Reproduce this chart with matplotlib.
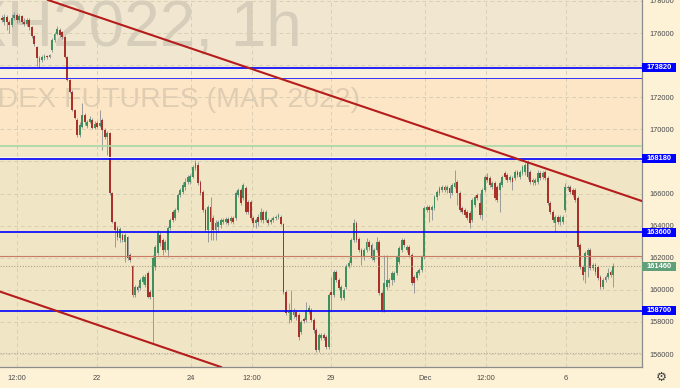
import matplotlib
matplotlib.use('Agg')
import matplotlib.pyplot as plt
from matplotlib import transforms
from matplotlib.patches import Rectangle
import numpy as np

plt.rcParams['font.family'] = ['Liberation Sans', 'DejaVu Sans']

# ---------------- data (hourly candles, MXH2022) ----------------
opens = [
    176930, 176690, 177000, 176690, 176500, 176930, 177120, 176810, 177060, 176690,
    176560, 176810, 176370, 175810, 175130, 174190, 174320, 174440, 174570, 174500,
    174940, 175560, 175940, 176190, 176060, 175750, 174500, 173070, 172320, 171200,
    170580, 169650, 170140, 170890, 170210, 170460, 170580, 170080, 170390, 170210,
    170580, 169960, 169520, 169770, 166030, 164230, 163850, 163230, 163420, 162980,
    163290, 162170, 161480, 159680, 160180, 160110, 160490, 160300, 161050, 159860,
    159550, 161420, 162290, 163420, 163100, 162480, 162480, 163850, 164850, 164470,
    164970, 165910, 166090, 166410, 166720, 166720, 167030, 167590, 167780, 166720,
    166090, 164970, 163730, 165160, 164470, 163730, 163910, 164040, 164230, 164230,
    164410, 164290, 164470, 164470, 165910, 166220, 165720, 166340, 165470, 165470,
    164470, 164160, 164540, 164350, 164850, 164350, 164350, 164230, 164350, 164470,
    164540, 164540, 164100, 159860, 158560, 158120, 158430, 158620, 158430, 157370,
    158180, 158120, 158620, 158740, 158120, 157500, 156250, 157000, 157190, 157060,
    156440, 159860, 159680, 161110, 160610, 159490, 159490, 160180, 161480, 161670,
    163100, 164160, 163170, 162480, 162040, 162480, 162980, 162790, 161860, 162480,
    162980, 159800, 158740, 160180, 160430, 160610, 160610, 161050, 161730, 162480,
    163100, 162480, 162670, 162170, 160800, 160740, 161050, 161240, 162040, 164970,
    165160, 164970, 165100, 165780, 166030, 166220, 166410, 166220, 166340, 166030,
    166410, 166720, 166030, 165100, 164970, 164850, 164790, 164350, 165280, 165910,
    165410, 164660, 166220, 167030, 166970, 166410, 166660, 166410, 166220, 166530,
    167280, 167150, 166840, 166970, 166970, 167340, 167030, 167280, 167340, 167900,
    167340, 166840, 166660, 166720, 167280, 167030, 167340, 166970, 165410, 164850,
    164160, 164540, 164230, 164230, 164970, 166340, 166410, 166220, 166220, 165720,
    162790, 161420, 161110, 162170, 162480, 161360, 161550, 161420, 160800, 160180,
    160610, 160800, 161110, 160920,
]
closes = [
    176810, 177000, 176690, 176500, 176930, 177120, 176810, 177060, 176690, 176560,
    176810, 176370, 175810, 175310, 174440, 174440, 174500, 174570, 174500, 174630,
    175560, 175940, 176250, 175880, 175750, 174500, 173070, 172320, 171200, 170700,
    169650, 170270, 170890, 170460, 170460, 170640, 170080, 170330, 170140, 170390,
    169960, 169520, 169770, 166030, 164230, 163730, 163290, 163790, 163100, 163420,
    161980, 161860, 159680, 160180, 159990, 160610, 160800, 160800, 159550, 159550,
    161980, 162670, 163540, 162920, 162480, 162980, 163850, 164350, 164350, 164970,
    165910, 166220, 166530, 166720, 167030, 167090, 167650, 167900, 166660, 166030,
    164970, 163730, 165160, 164230, 163730, 164160, 164230, 164350, 164350, 164410,
    164160, 164470, 164230, 166030, 166220, 165410, 166530, 164850, 164850, 164470,
    164160, 164350, 164230, 164850, 164350, 164850, 164160, 164350, 164470, 164540,
    164660, 164100, 159860, 158560, 158620, 158740, 158620, 158310, 157060, 158000,
    158060, 158740, 158870, 158120, 157500, 156250, 157190, 157190, 157000, 156440,
    159680, 159680, 161110, 160610, 160110, 160180, 159990, 161480, 161670, 163100,
    164160, 163100, 162480, 162040, 162480, 162980, 162670, 161980, 162480, 162980,
    159800, 158740, 160430, 160610, 160610, 161050, 161050, 162040, 162610, 163100,
    162790, 162670, 162170, 160430, 160430, 161110, 161240, 162040, 165100, 165160,
    164970, 165160, 165780, 166090, 166340, 166410, 166220, 166410, 166030, 166530,
    166660, 166030, 164970, 164850, 164660, 164470, 164160, 165600, 165780, 165720,
    164660, 166220, 167030, 166840, 166530, 166660, 165720, 165600, 166660, 167030,
    167030, 166840, 167030, 166720, 167340, 167150, 167340, 167650, 167780, 167030,
    166720, 166720, 166840, 167280, 166970, 167280, 166970, 165410, 164850, 164350,
    164540, 164230, 164540, 164540, 166410, 166410, 166090, 165910, 165600, 162670,
    161420, 160920, 162290, 162480, 161360, 161550, 161110, 160740, 160180, 160610,
    160800, 161050, 160920, 161460,
]
highs = [
    177120, 177180, 177120, 176810, 177180, 177310, 177250, 177180, 177120, 176930,
    176930, 176930, 176440, 175880, 175190, 174570, 174630, 174690, 174630, 174690,
    175690, 176060, 176440, 176310, 176120, 175810, 174570, 173130, 172450, 171270,
    170700, 170460, 171640, 171020, 170580, 170830, 170700, 170520, 170520, 171200,
    170700, 170080, 169890, 169830, 166090, 164290, 163980, 163910, 163540, 163540,
    163350, 162290, 161550, 160300, 160300, 160740, 160920, 160990, 161170, 159990,
    162170, 162790, 163730, 163600, 163230, 163100, 163980, 164470, 164970, 165100,
    166030, 166340, 166720, 166970, 167150, 167220, 167780, 168090, 167960, 166840,
    166220, 165100, 165280, 165780, 164660, 164350, 164350, 164470, 164470, 164540,
    164540, 164600, 164600, 166160, 166340, 166340, 166660, 166470, 165600, 165600,
    164600, 164470, 164720, 165100, 164970, 164970, 164470, 164470, 164600, 164660,
    164790, 164660, 164160, 159990, 159180, 159990, 158870, 158740, 158560, 158120,
    158310, 159240, 159050, 158870, 158250, 157620, 157310, 157310, 157310, 157190,
    159800, 160800, 161240, 161240, 160740, 160300, 160110, 161610, 161860, 163230,
    164410, 164290, 163290, 162610, 162610, 163230, 163100, 162920, 162610, 163290,
    163100, 159930, 162170, 162170, 160740, 161170, 161170, 162170, 162730, 163230,
    163230, 162790, 162790, 162290, 160920, 161240, 161360, 162170, 165220, 165280,
    165280, 165280, 165910, 166220, 166470, 166530, 166530, 166530, 166470, 166660,
    167470, 166840, 166160, 165220, 165100, 164970, 164910, 165720, 165910, 166030,
    166030, 166340, 167150, 167280, 167090, 166780, 166780, 166530, 166780, 167150,
    167400, 167280, 167150, 167090, 167470, 167470, 167470, 167780, 167900, 168090,
    167470, 166970, 166970, 167470, 167400, 167400, 167470, 167090, 165530, 164970,
    164660, 164660, 164660, 164660, 166660, 166530, 166530, 166340, 166340, 165850,
    162920, 161550, 162420, 162610, 162610, 161670, 161670, 161550, 160920, 160740,
    160920, 161360, 161240, 161670,
]
lows = [
    176690, 176500, 176190, 176000, 176370, 176810, 176620, 176690, 176560, 176440,
    176440, 176190, 175690, 175190, 173940, 173880, 174190, 174320, 174380, 174440,
    174820, 175440, 175880, 175750, 175630, 174440, 173010, 172260, 171140, 170640,
    169520, 169520, 170080, 170270, 170080, 170390, 170020, 170020, 170080, 170140,
    168710, 169400, 168400, 165910, 164160, 162670, 163100, 162980, 162980, 161730,
    161860, 161730, 159550, 159550, 159860, 159990, 160360, 160180, 159490, 159430,
    156690, 161240, 162170, 162730, 162170, 162360, 162040, 163730, 164230, 164350,
    164850, 165780, 165970, 166220, 166590, 166590, 166970, 167470, 166530, 165910,
    164850, 163600, 162980, 163100, 163100, 163100, 163600, 163850, 164100, 164100,
    164040, 164160, 164100, 164350, 165780, 165280, 165600, 164720, 164720, 164350,
    163910, 163850, 163980, 164230, 164160, 164230, 164040, 164100, 164230, 164350,
    164410, 164040, 159740, 158430, 157930, 158000, 158250, 158120, 156870, 157250,
    157930, 158000, 158490, 158000, 157310, 156130, 156130, 156870, 156870, 156310,
    156310, 158740, 159550, 160490, 159990, 159370, 159370, 160050, 161360, 161550,
    162980, 162980, 162360, 161550, 161860, 162360, 162480, 161860, 161730, 162360,
    159680, 158620, 158620, 159990, 160180, 160300, 160490, 160920, 161610, 162360,
    162670, 162360, 162040, 160300, 159800, 160610, 160920, 161110, 161920, 164850,
    164230, 164350, 164970, 165600, 165910, 166090, 166090, 166030, 165720, 165910,
    166340, 165280, 164850, 164720, 164540, 164350, 163850, 164230, 165160, 165600,
    164470, 164350, 166090, 166720, 166410, 166280, 165600, 165470, 164850, 166410,
    166900, 166720, 166720, 166220, 166840, 167030, 166900, 167150, 167150, 166900,
    166590, 166530, 166530, 166590, 166840, 166900, 166840, 165280, 164720, 164230,
    163600, 164100, 164040, 164100, 164850, 166220, 165970, 165780, 165470, 162540,
    161300, 160610, 160430, 160800, 161240, 161240, 160920, 160610, 160050, 160050,
    160490, 160670, 160800, 160180,
]

blue_levels = [173820, 168180, 163600, 158700]
blue_labels = ['173820', '168180', '163600', '158700']
thin_blue_level = 173200
green_level = 168960
white_level = 168270
brown_level = 162110
dotted_level = 156050
last_price = 161460
last_label = '161460'

ytick_values = [156000, 158000, 160000, 162000, 164000, 166000, 168000,
                170000, 172000, 174000, 176000, 178000]
ytick_labels = ['156000', '158000', '160000', '162000', '164000', '166000', '',
                '170000', '172000', '', '176000', '178000']
xtick_positions = [6.1, 37.9, 75.2, 99.5, 130.9, 168.2, 192.5, 224.3]
xtick_labels = ['12:00', '22', '24', '12:00', '29', 'Dec', '12:00', '6']

upper_trend = [(18.4, 178056), (254.5, 165530)]
lower_trend = [(-0.68, 159890), (86.8, 155210)]

# ---------------- figure ----------------
W, H = 680, 388
fig = plt.figure(figsize=(W / 100, H / 100), dpi=100, facecolor='#fdf2d6')
ax = fig.add_axes([0, 21 / H, 642 / W, 367 / H])
ax.set_xlim(-0.68, 254.5)
ax.set_ylim(155192, 178056)
ax.set_facecolor('#f0e5c4')

# background bands
ax.axhspan(173820, 180000, color='#f1e7d0', zorder=0.1, lw=0)
ax.axhspan(173200, 173820, color='#f9f0dc', zorder=0.1, lw=0)
ax.axhspan(168960, 173200, color='#fde6c5', zorder=0.1, lw=0)
ax.axhspan(168180, 168960, color='#f3e8ca', zorder=0.1, lw=0)

# watermark
wm_color = (0.42, 0.42, 0.42, 0.2)
ax.text(302 / W, 1 - 45 / H, 'MXH2022, 1h', transform=fig.transFigure,
        ha='right', va='baseline', fontsize=46, color=wm_color, zorder=0.3)
ax.text(360 / W, 1 - 107 / H, 'MOEX INDEX FUTURES (MAR 2022)', transform=fig.transFigure,
        ha='right', va='baseline', fontsize=20.5, color=wm_color, zorder=0.3)

# grid
ax.set_yticks(ytick_values)
ax.set_yticklabels(ytick_labels)
ax.set_xticks(xtick_positions)
ax.set_xticklabels(xtick_labels)
ax.set_axisbelow(True)
ax.grid(True, color='#d9cfb4', linestyle=(0, (4, 3)), linewidth=0.7)

ax.yaxis.tick_right()
ax.tick_params(axis='y', length=0, pad=5.5, labelsize=5.3, labelcolor='#4a4a4a')
ax.tick_params(axis='x', length=0, pad=5.5, labelsize=5.4, labelcolor='#4a4a4a')
for s in ['top', 'left']:
    ax.spines[s].set_visible(False)
for s in ['right', 'bottom']:
    ax.spines[s].set_color('#8c8c8c')
    ax.spines[s].set_linewidth(0.9)

# candles
o = np.array(opens, float)
c = np.array(closes, float)
h = np.array(highs, float)
l = np.array(lows, float)
x = np.arange(len(o))
up = c >= o
cols = np.where(up, '#3f8f5f', '#a8322a')
ax.vlines(x, l, h, colors='#9a9a9a', linewidth=0.7, zorder=2)
ax.bar(x, np.maximum(np.abs(c - o), 40), bottom=np.minimum(o, c), width=0.74,
       color=cols, linewidth=0, zorder=3)

# horizontal levels
ax.axhline(white_level, color='#fbf6ea', lw=0.8, zorder=4)
ax.axhline(green_level, color='#a6d8a8', lw=1.2, zorder=4)
ax.axhline(thin_blue_level, color='#3333ff', lw=0.7, zorder=4)
ax.axhline(brown_level, color='#c97b66', lw=0.8, zorder=4)
ax.axhline(last_price, color='#a9a48c', lw=0.8, linestyle=(0, (1, 1.5)), zorder=4)
ax.axhline(dotted_level, color='#b3aa94', lw=0.8, linestyle=(0, (1, 1.5)), zorder=4)
for lv in blue_levels:
    ax.axhline(lv, color='#0000ff', lw=1.2, zorder=4)

# trend lines
ax.axline(upper_trend[0], upper_trend[1], color='#b51c1c', lw=1.5, zorder=5)
ax.axline(lower_trend[0], lower_trend[1], color='#b51c1c', lw=1.5, zorder=5)

# price label boxes on the right scale
trans = transforms.blended_transform_factory(fig.transFigure, ax.transData)
box_h = 9 * (178056 - 155192) / 367
for lv, lab in zip(blue_levels, blue_labels):
    fig.add_artist(Rectangle((642 / W, lv - box_h / 2), 34 / W, box_h, transform=trans,
                             facecolor='#0000ff', edgecolor='none', zorder=5))
    fig.text(659.5 / W, lv, lab, transform=trans, ha='center', va='center',
             color='white', fontsize=5.4, fontweight='bold', zorder=6)
fig.add_artist(Rectangle((642 / W, last_price - box_h / 2), 34 / W, box_h, transform=trans,
                         facecolor='#5f9f79', edgecolor='none', zorder=5))
fig.text(659.5 / W, last_price, last_label, transform=trans, ha='center', va='center',
         color='white', fontsize=5.4, fontweight='bold', zorder=6)

# settings icon
fig.text(661 / W, 1 - 377 / H, '\u2699', ha='center', va='center', fontsize=9,
         color='#444444', family=['DejaVu Sans'])

fig.savefig('out.png', dpi=100, facecolor=fig.get_facecolor())
